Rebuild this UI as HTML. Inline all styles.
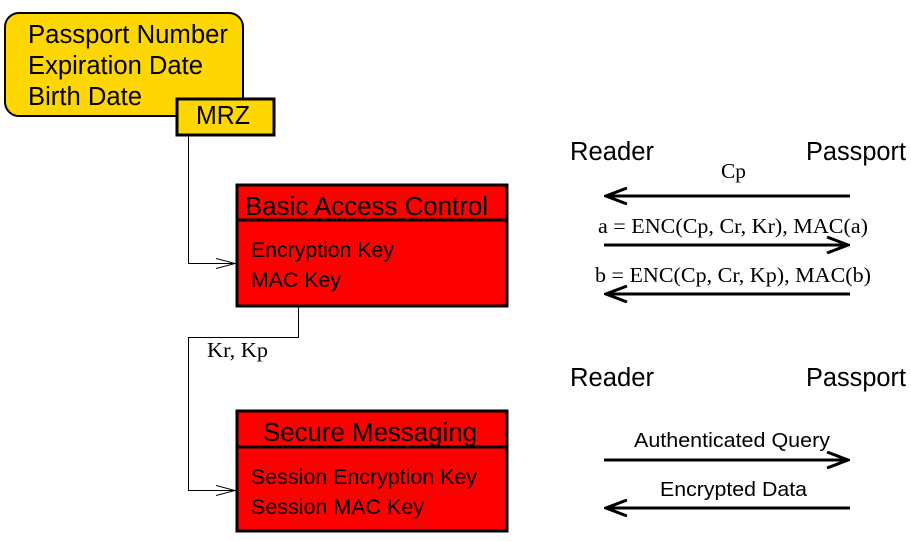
<!DOCTYPE html>
<html><head><meta charset="utf-8"><style>
body{margin:0;background:#fff}
svg{display:block}
.s{font-family:"Liberation Sans",sans-serif}
.r{font-family:"Liberation Serif",serif}
</style></head><body>
<svg width="911" height="541" viewBox="0 0 911 541" xmlns="http://www.w3.org/2000/svg">
<defs>
<marker id="o" markerWidth="20" markerHeight="12" refX="19" refY="6" orient="auto" markerUnits="userSpaceOnUse"><path d="M0,1 L19,6 L0,11" fill="none" stroke="#000" stroke-width="1"/></marker>
<marker id="b" markerWidth="24" markerHeight="18" refX="22" refY="9" orient="auto" markerUnits="userSpaceOnUse"><path d="M1,1 L22,9 L1,17" fill="none" stroke="#000" stroke-width="3"/></marker>
</defs>
<rect x="5" y="13" width="238" height="103" rx="14" fill="#ffd700" stroke="#000" stroke-width="2"/>
<g class="s" font-size="25.5" fill="#000">
<text x="28" y="43" textLength="200" lengthAdjust="spacingAndGlyphs">Passport Number</text>
<text x="28" y="74" textLength="175" lengthAdjust="spacingAndGlyphs">Expiration Date</text>
<text x="28" y="105" textLength="114" lengthAdjust="spacingAndGlyphs">Birth Date</text>
</g>
<rect x="177" y="99" width="97" height="36" fill="#ffd700" stroke="#000" stroke-width="3"/>
<text class="s" x="196" y="124" font-size="25.5" textLength="54" lengthAdjust="spacingAndGlyphs">MRZ</text>
<rect x="237" y="185" width="270" height="121" fill="#f00" stroke="#000" stroke-width="3"/>
<line x1="237" y1="220" x2="507" y2="220" stroke="#000" stroke-width="3"/>
<text class="s" x="245" y="215" font-size="25.5" textLength="243" lengthAdjust="spacingAndGlyphs">Basic Access Control</text>
<text class="s" x="251" y="257" font-size="21" textLength="143" lengthAdjust="spacingAndGlyphs">Encryption Key</text>
<text class="s" x="251" y="287" font-size="21" textLength="90" lengthAdjust="spacingAndGlyphs">MAC Key</text>
<rect x="237" y="411" width="270" height="120" fill="#f00" stroke="#000" stroke-width="3"/>
<line x1="237" y1="447" x2="507" y2="447" stroke="#000" stroke-width="3"/>
<text class="s" x="263" y="441" font-size="25.5" textLength="214" lengthAdjust="spacingAndGlyphs">Secure Messaging</text>
<text class="s" x="251" y="484" font-size="21" textLength="226" lengthAdjust="spacingAndGlyphs">Session Encryption Key</text>
<text class="s" x="251" y="514" font-size="21" textLength="173" lengthAdjust="spacingAndGlyphs">Session MAC Key</text>
<path d="M188.5,135 V263.5 H235" fill="none" stroke="#000" stroke-width="1" marker-end="url(#o)"/>
<path d="M298.5,307 V337.5 H188.5 V490.5 H235" fill="none" stroke="#000" stroke-width="1" marker-end="url(#o)"/>
<text class="r" x="207" y="357" font-size="21" textLength="61" lengthAdjust="spacingAndGlyphs">Kr, Kp</text>
<g class="s" font-size="25.5">
<text x="570" y="160" textLength="84" lengthAdjust="spacingAndGlyphs">Reader</text><text x="806" y="160" textLength="100" lengthAdjust="spacingAndGlyphs">Passport</text>
<text x="570" y="386" textLength="84" lengthAdjust="spacingAndGlyphs">Reader</text><text x="806" y="386" textLength="100" lengthAdjust="spacingAndGlyphs">Passport</text>
</g>
<g class="r" font-size="21">
<text x="721" y="178" textLength="25" lengthAdjust="spacingAndGlyphs">Cp</text>
<text x="598" y="233" textLength="270" lengthAdjust="spacingAndGlyphs">a = ENC(Cp, Cr, Kr),  MAC(a)</text>
<text x="595" y="282" textLength="276" lengthAdjust="spacingAndGlyphs">b = ENC(Cp, Cr, Kp),  MAC(b)</text>
</g>
<g class="s" font-size="20.5">
<text x="634" y="447" textLength="196" lengthAdjust="spacingAndGlyphs">Authenticated Query</text>
<text x="660" y="496" textLength="147" lengthAdjust="spacingAndGlyphs">Encrypted Data</text>
</g>
<g stroke="#000" stroke-width="3" marker-end="url(#b)">
<line x1="850" y1="196" x2="606" y2="196"/>
<line x1="604" y1="245" x2="848" y2="245"/>
<line x1="850" y1="294" x2="606" y2="294"/>
<line x1="604" y1="460" x2="848" y2="460"/>
<line x1="850" y1="508" x2="606" y2="508"/>
</g>
</svg>
</body></html>
